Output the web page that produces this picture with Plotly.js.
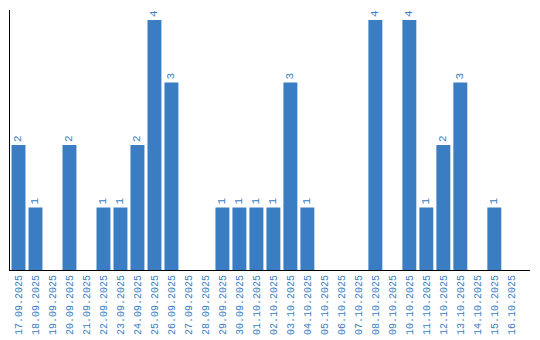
<!DOCTYPE html>
<html><head><meta charset="utf-8">
<script src="https://cdn.plot.ly/plotly-3.0.1.min.js"></script>
<style>html,body{margin:0;padding:0;background:#fff}#c{width:540px;height:340px}</style>
</head><body><div id="c"></div>
<script>
const dates = ["17.09.2025","18.09.2025","19.09.2025","20.09.2025","21.09.2025","22.09.2025","23.09.2025","24.09.2025","25.09.2025","26.09.2025","27.09.2025","28.09.2025","29.09.2025","30.09.2025","01.10.2025","02.10.2025","03.10.2025","04.10.2025","05.10.2025","06.10.2025","07.10.2025","08.10.2025","09.10.2025","10.10.2025","11.10.2025","12.10.2025","13.10.2025","14.10.2025","15.10.2025","16.10.2025"];
const counts = [2,1,0,2,0,1,1,2,4,3,0,0,1,1,1,1,3,1,0,0,0,4,0,4,1,2,3,0,1,0];
const labels = counts.map(v => v === 0 ? "" : String(v));
const color = "#3a7dc2";
const mono = "Liberation Mono, DejaVu Sans Mono, monospace";
Plotly.newPlot("c", [{
  type: "bar", x: dates, y: counts, text: labels,
  textposition: "outside", textangle: -90, cliponaxis: false, constraintext: "none",
  textfont: {family: mono, size: 11, color: color},
  marker: {color: color}, hoverinfo: "none"
}], {
  width: 540, height: 340,
  margin: {l: 10, r: 10, t: 10, b: 70},
  bargap: 0.18,
  paper_bgcolor: "#fff", plot_bgcolor: "#fff",
  showlegend: false,
  xaxis: {type: "category", range: [-0.5, 30.1], tickangle: -90, showline: true, linecolor: "#000", linewidth: 1,
    showgrid: false, zeroline: false, ticks: "", tickfont: {family: mono, size: 10, color: color}},
  yaxis: {range: [0, 4.16], showline: true, linecolor: "#000", linewidth: 1, showgrid: false,
    zeroline: false, showticklabels: false, ticks: ""}
}, {displayModeBar: false, staticPlot: true});
</script></body></html>
